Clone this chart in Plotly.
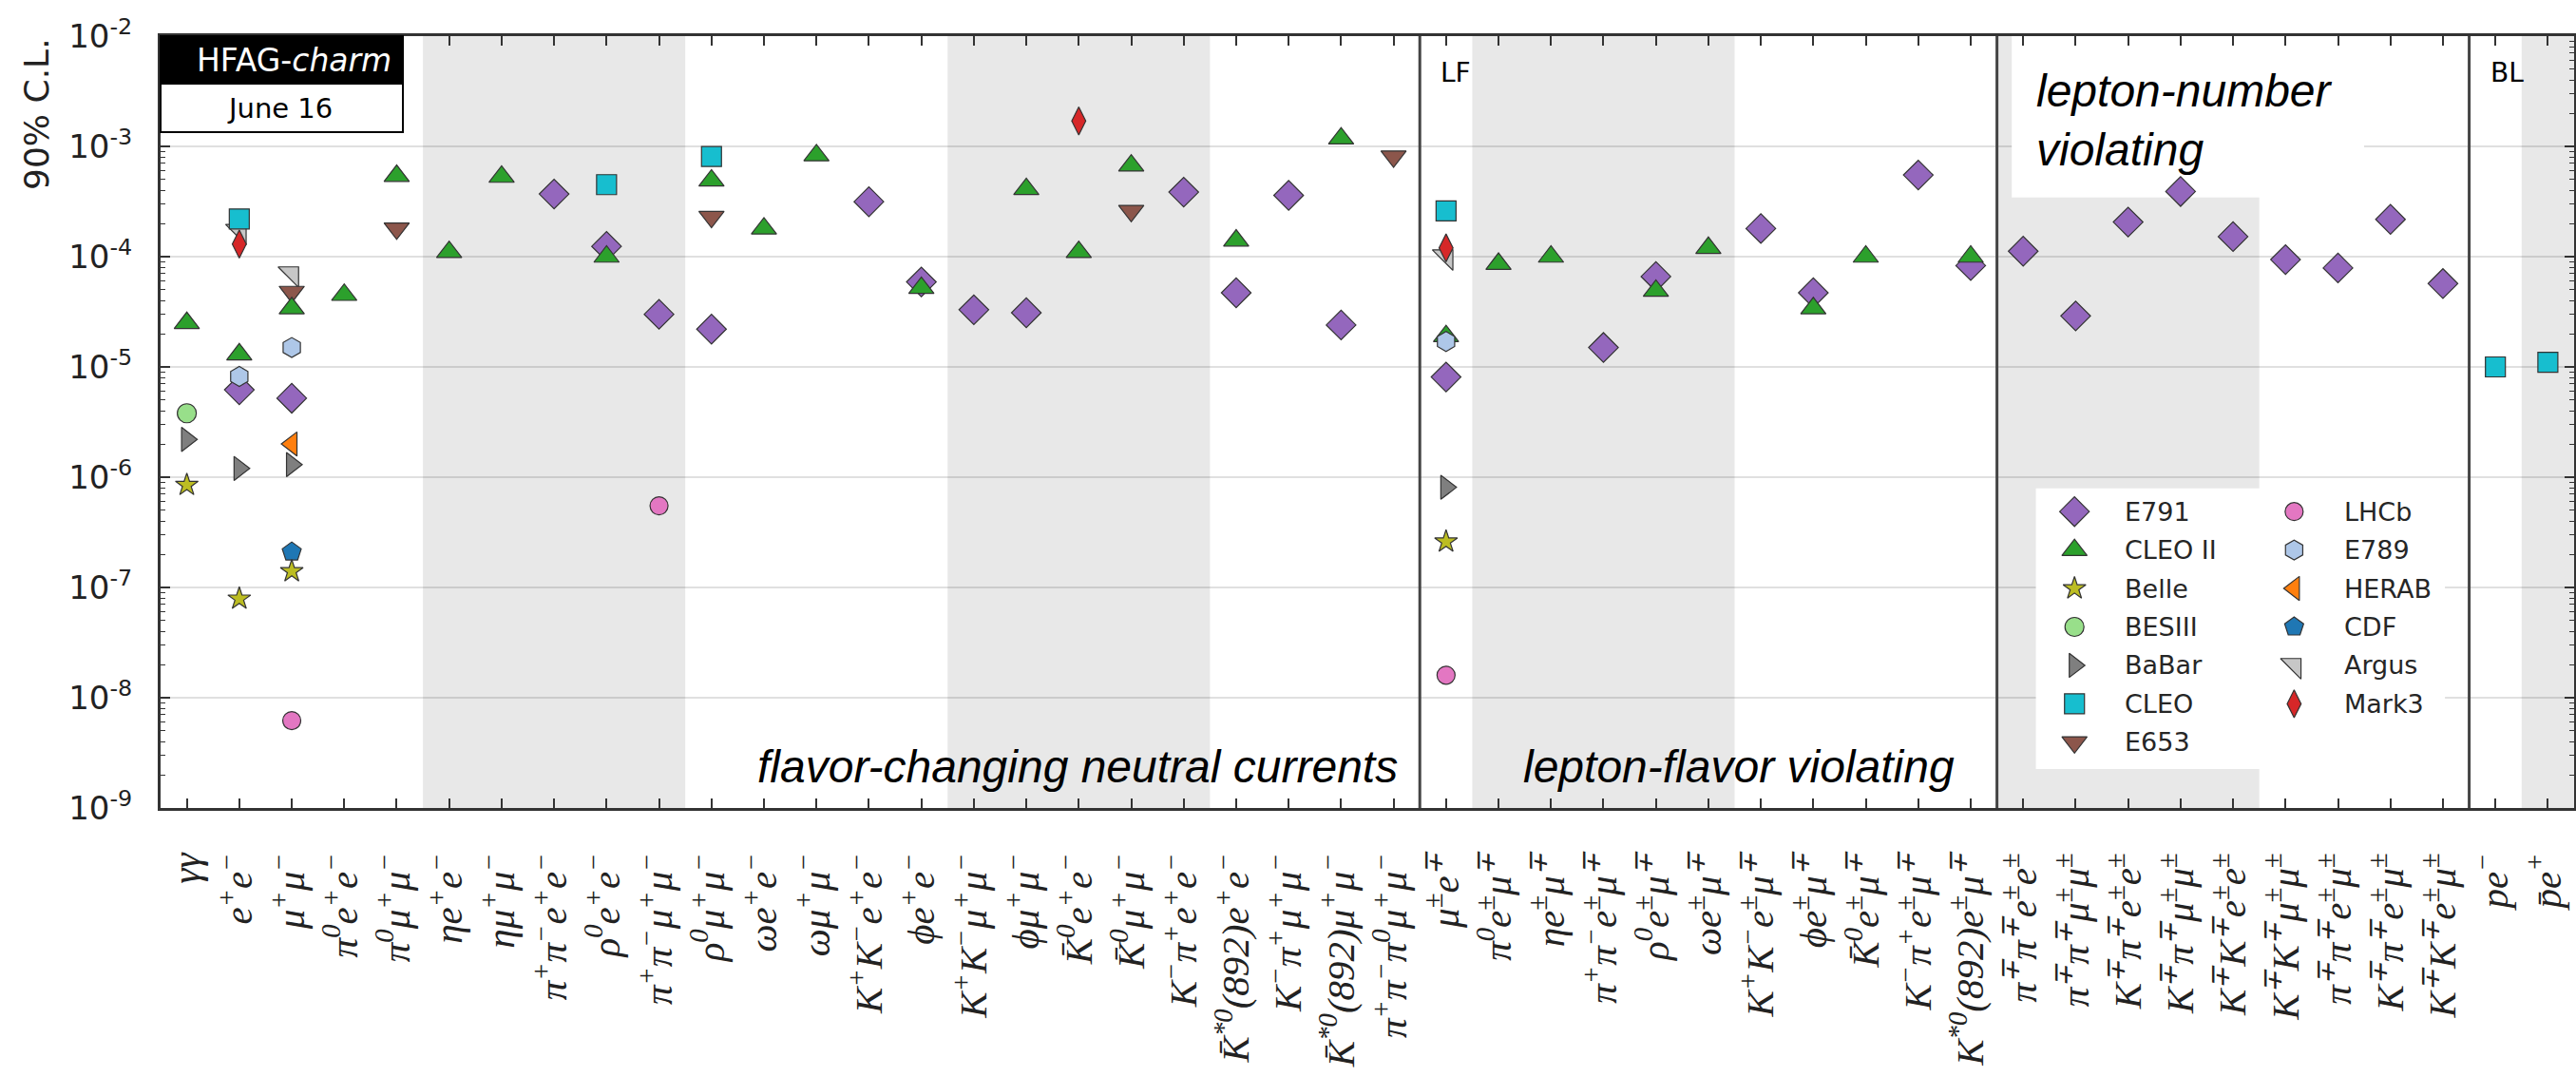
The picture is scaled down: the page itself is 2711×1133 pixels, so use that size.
import plotly.graph_objects as go

# ---------------------------------------------------------------------------
# Decay channels (x categories) and their axis labels
# ---------------------------------------------------------------------------
channels = [
    "gg", "ee", "mm", "pi0ee", "pi0mm", "etaee", "etamm", "pipiee", "rhoee",
    "pipimm", "rhomm", "omee", "ommm", "KKee", "phiee", "KKmm", "phimm",
    "K0ee", "K0mm", "Kpiee", "Kstee", "Kpimm", "Kstmm", "pipipi0mm",
    "em", "pi0em", "etaem", "pipiem", "rhoem", "omem", "KKem", "phiem",
    "K0em", "Kpiem", "Kstem",
    "pipiee_ln", "pipimm_ln", "Kpiee_ln", "Kpimm_ln", "KKee_ln", "KKmm_ln",
    "pipiem_ln", "Kpiem_ln", "KKem_ln",
    "pe", "pbare",
]

channel_labels = [
    "γγ",
    "e<sup>+</sup>e<sup>−</sup>",
    "μ<sup>+</sup>μ<sup>−</sup>",
    "π<sup>0</sup>e<sup>+</sup>e<sup>−</sup>",
    "π<sup>0</sup>μ<sup>+</sup>μ<sup>−</sup>",
    "ηe<sup>+</sup>e<sup>−</sup>",
    "ημ<sup>+</sup>μ<sup>−</sup>",
    "π<sup>+</sup>π<sup>−</sup>e<sup>+</sup>e<sup>−</sup>",
    "ρ<sup>0</sup>e<sup>+</sup>e<sup>−</sup>",
    "π<sup>+</sup>π<sup>−</sup>μ<sup>+</sup>μ<sup>−</sup>",
    "ρ<sup>0</sup>μ<sup>+</sup>μ<sup>−</sup>",
    "ωe<sup>+</sup>e<sup>−</sup>",
    "ωμ<sup>+</sup>μ<sup>−</sup>",
    "K<sup>+</sup>K<sup>−</sup>e<sup>+</sup>e<sup>−</sup>",
    "ϕe<sup>+</sup>e<sup>−</sup>",
    "K<sup>+</sup>K<sup>−</sup>μ<sup>+</sup>μ<sup>−</sup>",
    "ϕμ<sup>+</sup>μ<sup>−</sup>",
    "K̄<sup>0</sup>e<sup>+</sup>e<sup>−</sup>",
    "K̄<sup>0</sup>μ<sup>+</sup>μ<sup>−</sup>",
    "K<sup>−</sup>π<sup>+</sup>e<sup>+</sup>e<sup>−</sup>",
    "K̄<sup>*0</sup>(892)e<sup>+</sup>e<sup>−</sup>",
    "K<sup>−</sup>π<sup>+</sup>μ<sup>+</sup>μ<sup>−</sup>",
    "K̄<sup>*0</sup>(892)μ<sup>+</sup>μ<sup>−</sup>",
    "π<sup>+</sup>π<sup>−</sup>π<sup>0</sup>μ<sup>+</sup>μ<sup>−</sup>",
    "μ<sup>±</sup>e<sup>∓</sup>",
    "π<sup>0</sup>e<sup>±</sup>μ<sup>∓</sup>",
    "ηe<sup>±</sup>μ<sup>∓</sup>",
    "π<sup>+</sup>π<sup>−</sup>e<sup>±</sup>μ<sup>∓</sup>",
    "ρ<sup>0</sup>e<sup>±</sup>μ<sup>∓</sup>",
    "ωe<sup>±</sup>μ<sup>∓</sup>",
    "K<sup>+</sup>K<sup>−</sup>e<sup>±</sup>μ<sup>∓</sup>",
    "ϕe<sup>±</sup>μ<sup>∓</sup>",
    "K̄<sup>0</sup>e<sup>±</sup>μ<sup>∓</sup>",
    "K<sup>−</sup>π<sup>+</sup>e<sup>±</sup>μ<sup>∓</sup>",
    "K<sup>*0</sup>(892)e<sup>±</sup>μ<sup>∓</sup>",
    "π<sup>∓</sup>π<sup>∓</sup>e<sup>±</sup>e<sup>±</sup>",
    "π<sup>∓</sup>π<sup>∓</sup>μ<sup>±</sup>μ<sup>±</sup>",
    "K<sup>∓</sup>π<sup>∓</sup>e<sup>±</sup>e<sup>±</sup>",
    "K<sup>∓</sup>π<sup>∓</sup>μ<sup>±</sup>μ<sup>±</sup>",
    "K<sup>∓</sup>K<sup>∓</sup>e<sup>±</sup>e<sup>±</sup>",
    "K<sup>∓</sup>K<sup>∓</sup>μ<sup>±</sup>μ<sup>±</sup>",
    "π<sup>∓</sup>π<sup>∓</sup>e<sup>±</sup>μ<sup>±</sup>",
    "K<sup>∓</sup>π<sup>∓</sup>e<sup>±</sup>μ<sup>±</sup>",
    "K<sup>∓</sup>K<sup>∓</sup>e<sup>±</sup>μ<sup>±</sup>",
    "pe<sup>−</sup>",
    "p̄e<sup>+</sup>",
]

# ---------------------------------------------------------------------------
# 90% C.L. upper limits on D0 branching fractions, one table per experiment
# ---------------------------------------------------------------------------
E791 = {
    "ee": 6.2e-6, "mm": 5.2e-6, "pipiee": 3.7e-4, "rhoee": 1.24e-4,
    "pipimm": 3.0e-5, "rhomm": 2.2e-5, "KKee": 3.15e-4, "phiee": 5.9e-5,
    "KKmm": 3.3e-5, "phimm": 3.1e-5, "Kpiee": 3.85e-4, "Kstee": 4.7e-5,
    "Kpimm": 3.6e-4, "Kstmm": 2.4e-5,
    "em": 8.1e-6, "pipiem": 1.5e-5, "rhoem": 6.6e-5, "KKem": 1.8e-4,
    "phiem": 4.7e-5, "Kpiem": 5.5e-4, "Kstem": 8.3e-5,
    "pipiee_ln": 1.12e-4, "pipimm_ln": 2.9e-5, "Kpiee_ln": 2.06e-4,
    "Kpimm_ln": 3.9e-4, "KKee_ln": 1.52e-4, "KKmm_ln": 9.4e-5,
    "pipiem_ln": 7.9e-5, "Kpiem_ln": 2.18e-4, "KKem_ln": 5.7e-5,
}
CLEO_II = {
    "gg": 2.5e-5, "ee": 1.3e-5, "mm": 3.4e-5, "pi0ee": 4.5e-5,
    "pi0mm": 5.4e-4, "etaee": 1.1e-4, "etamm": 5.3e-4, "rhoee": 1.0e-4,
    "rhomm": 4.9e-4, "omee": 1.8e-4, "ommm": 8.3e-4, "phiee": 5.2e-5,
    "phimm": 4.1e-4, "K0ee": 1.1e-4, "K0mm": 6.7e-4, "Kstee": 1.4e-4,
    "Kstmm": 1.18e-3,
    "em": 1.9e-5, "pi0em": 8.6e-5, "etaem": 1.0e-4, "rhoem": 4.9e-5,
    "omem": 1.2e-4, "phiem": 3.4e-5, "K0em": 1.0e-4, "Kstem": 1.0e-4,
}
Belle = {"gg": 8.5e-7, "ee": 7.9e-8, "mm": 1.4e-7, "em": 2.6e-7}
BESIII = {"gg": 3.8e-6}
BaBar = {"gg": 2.2e-6, "ee": 1.2e-6, "mm": 1.3e-6, "em": 8.1e-7}
CLEO = {"ee": 2.2e-4, "rhoee": 4.5e-4, "rhomm": 8.1e-4, "em": 2.6e-4,
        "pe": 1.0e-5, "pbare": 1.1e-5}
E653 = {"mm": 4.8e-5, "pi0mm": 1.8e-4, "rhomm": 2.3e-4, "K0mm": 2.6e-4,
        "pipipi0mm": 8.1e-4}
LHCb = {"mm": 6.2e-9, "pipimm": 5.5e-7, "em": 1.6e-8}
E789 = {"ee": 8.2e-6, "mm": 1.5e-5, "em": 1.7e-5}
HERAB = {"mm": 2.0e-6}
CDF = {"mm": 2.1e-7}
Argus = {"ee": 1.7e-4, "mm": 7.0e-5, "em": 1.0e-4}
Mark3 = {"ee": 1.3e-4, "K0ee": 1.7e-3, "em": 1.2e-4}

experiments = {
    "E791": E791, "CLEO II": CLEO_II, "Belle": Belle, "BESIII": BESIII,
    "BaBar": BaBar, "CLEO": CLEO, "E653": E653, "LHCb": LHCb, "E789": E789,
    "HERAB": HERAB, "CDF": CDF, "Argus": Argus, "Mark3": Mark3,
}

# legend layout: two columns, filled column by column
legend_columns = [
    ["E791", "CLEO II", "Belle", "BESIII", "BaBar", "CLEO", "E653"],
    ["LHCb", "E789", "HERAB", "CDF", "Argus", "Mark3"],
]

# drawing order (later entries sit on top)
draw_order = ["Argus", "Mark3", "E653", "CLEO", "E791", "CLEO II", "E789",
              "BaBar", "HERAB", "CDF", "Belle", "BESIII", "LHCb"]

# marker style per experiment: (symbol, fill colour, size)
styles = {
    "E791": ("diamond", "#9467bd", 24),
    "CLEO II": ("triangle-up", "#2ca02c", 23),
    "Belle": ("star", "#bcbd22", 18),
    "BESIII": ("circle", "#98df8a", 20),
    "BaBar": ("triangle-right", "#7f7f7f", 22),
    "CLEO": ("square", "#17becf", 21),
    "E653": ("triangle-down", "#8c564b", 23),
    "LHCb": ("circle", "#e377c2", 19),
    "E789": ("hexagon", "#aec7e8", 21),
    "HERAB": ("triangle-left", "#ff7f0e", 22),
    "CDF": ("pentagon", "#1f77b4", 21),
    "Argus": ("triangle-ne", "#c7c7c7", 24),
    "Mark3": ("diamond-tall", "#d62728", 21),
}

# section boundaries (between channel indices) and shaded blocks of five
section_edges = [23.5, 34.5, 43.5]
band_starts = list(range(5, len(channels), 10))
decades = list(range(-9, -1))

EDGE = "#333333"
fig = go.Figure()

for name in draw_order:
    data = experiments[name]
    sym, col, size = styles[name]
    xs = [channels.index(k) for k in data]
    ys = list(data.values())
    fig.add_trace(go.Scatter(
        x=xs, y=ys, mode="markers", name=name, showlegend=False,
        marker=dict(symbol=sym, color=col, size=size,
                    line=dict(color=EDGE, width=1.2)),
        hovertemplate=name + ": %{y:.2g}<extra></extra>",
    ))

# hand-laid legend on an overlay axis spanning the plot area (0..1 in each)
leg_x_marker = [0.793, 0.884]
leg_x_text = [0.813, 0.904]
leg_y_top, leg_dy = 0.384, 0.0498
for c, names in enumerate(legend_columns):
    for r, name in enumerate(names):
        sym, col, size = styles[name]
        fig.add_trace(go.Scatter(
            x=[leg_x_marker[c]], y=[leg_y_top - r * leg_dy],
            xaxis="x2", yaxis="y2", mode="markers", showlegend=False,
            hoverinfo="skip",
            marker=dict(symbol=sym, color=col, size=size,
                        line=dict(color=EDGE, width=1.2)),
        ))
        fig.add_annotation(
            x=leg_x_text[c], y=leg_y_top - r * leg_dy, xref="x2", yref="y2",
            text=name, showarrow=False, xanchor="left", yanchor="middle",
            font=dict(family="DejaVu Sans", size=27, color="#262626"),
        )

shapes = []
# alternating grey bands
for s in band_starts:
    shapes.append(dict(type="rect", xref="x", yref="paper",
                       x0=s - 0.5, x1=min(s + 4.5, len(channels) - 0.5),
                       y0=0, y1=1, fillcolor="#e8e8e8",
                       line=dict(width=0), layer="below"))
# decade grid lines, drawn over the bands
for d in decades[1:-1]:
    shapes.append(dict(type="line", xref="paper", yref="y",
                       x0=0, x1=1, y0=10.0 ** d, y1=10.0 ** d,
                       line=dict(color="rgba(0,0,0,0.12)", width=2),
                       layer="below"))
# white panels behind the section title and the legend (cover the grid)
shapes.append(dict(type="rect", xref="paper", yref="paper",
                   x0=0.767, x1=0.913, y0=0.791, y1=1.0,
                   fillcolor="white", line=dict(width=0), layer="below"))
shapes.append(dict(type="rect", xref="paper", yref="paper",
                   x0=0.777, x1=0.9465, y0=0.0505, y1=0.414,
                   fillcolor="white", line=dict(width=0), layer="below"))
# section separators
for e in section_edges:
    shapes.append(dict(type="line", xref="x", yref="paper",
                       x0=e, x1=e, y0=0, y1=1,
                       line=dict(color="#444444", width=3), layer="above"))
# HFAG badge
shapes.append(dict(type="rect", xref="paper", yref="paper",
                   x0=0, x1=0.1004, y0=0.9384, y1=1.0,
                   fillcolor="black", line=dict(color="black", width=2),
                   layer="above"))
shapes.append(dict(type="rect", xref="paper", yref="paper",
                   x0=0, x1=0.1004, y0=0.8756, y1=0.9384,
                   fillcolor="white", line=dict(color="black", width=2),
                   layer="above"))

annotations = [
    dict(x=0.0555, y=0.968, text="HFAG-<i>charm</i>",
         font=dict(family="DejaVu Sans", size=33, color="white")),
    dict(x=0.0496, y=0.907, text="June 16",
         font=dict(family="DejaVu Sans", size=29, color="black")),
    dict(x=0.5134, y=0.053, text="flavor-changing neutral currents",
         xanchor="right",
         font=dict(family="Liberation Sans", size=48, color="black",
                   style="italic")),
    dict(x=0.744, y=0.053, text="lepton-flavor violating", xanchor="right",
         font=dict(family="Liberation Sans", size=48, color="black",
                   style="italic")),
    dict(x=0.7764, y=0.891, text="lepton-number<br>violating",
         xanchor="left", align="left",
         font=dict(family="Liberation Sans", size=48, color="black",
                   style="italic")),
    dict(x=0.5295, y=0.953, text="LF", xanchor="left",
         font=dict(family="DejaVu Sans", size=28, color="black")),
    dict(x=0.9646, y=0.952, text="BL", xanchor="left",
         font=dict(family="DejaVu Sans", size=28, color="black")),
    dict(x=-0.0516, y=0.899, text="90% C.L.", textangle=-90,
         font=dict(family="DejaVu Sans", size=36, color="#222222")),
]
for a in annotations:
    a.setdefault("xanchor", "center")
    fig.add_annotation(xref="paper", yref="paper", showarrow=False,
                       yanchor="middle", **a)

minor_vals = [m * 10.0 ** d for d in decades[:-1] for m in range(2, 10)]

fig.update_layout(
    width=2711, height=1133,
    margin=dict(l=169, r=2, t=38, b=283, autoexpand=False),
    plot_bgcolor="white", paper_bgcolor="white",
    shapes=shapes,
    showlegend=False,
    xaxis=dict(
        range=[-0.5, len(channels) - 0.5], automargin=False,
        tickmode="array", tickvals=list(range(len(channels))),
        ticktext=channel_labels, tickangle=-90,
        tickfont=dict(family="Liberation Serif", size=41, color="#222222",
                      style="italic"),
        ticks="inside", ticklen=10, tickwidth=1.5, tickcolor="#333333",
        ticklabelstandoff=28,
        showline=True, linecolor="#333333", linewidth=3, mirror="ticks",
        showgrid=False, zeroline=False,
    ),
    yaxis=dict(
        type="log", range=[-9, -2], automargin=False,
        tickmode="array", tickvals=[10.0 ** d for d in decades],
        ticktext=["10<sup>%d</sup>" % d for d in decades],
        tickfont=dict(family="DejaVu Sans", size=34, color="#222222"),
        ticks="inside", ticklen=10, tickwidth=1.5, tickcolor="#333333",
        ticklabelstandoff=20,
        minor=dict(tickmode="array", tickvals=minor_vals, ticks="inside",
                   ticklen=5, tickwidth=1.2, tickcolor="#333333",
                   showgrid=False),
        showline=True, linecolor="#333333", linewidth=3, mirror="ticks",
        showgrid=False, zeroline=False,
    ),
    xaxis2=dict(overlaying="x", range=[0, 1], visible=False,
                fixedrange=True),
    yaxis2=dict(overlaying="y", range=[0, 1], visible=False,
                fixedrange=True),
)

fig.write_html("out.html")
